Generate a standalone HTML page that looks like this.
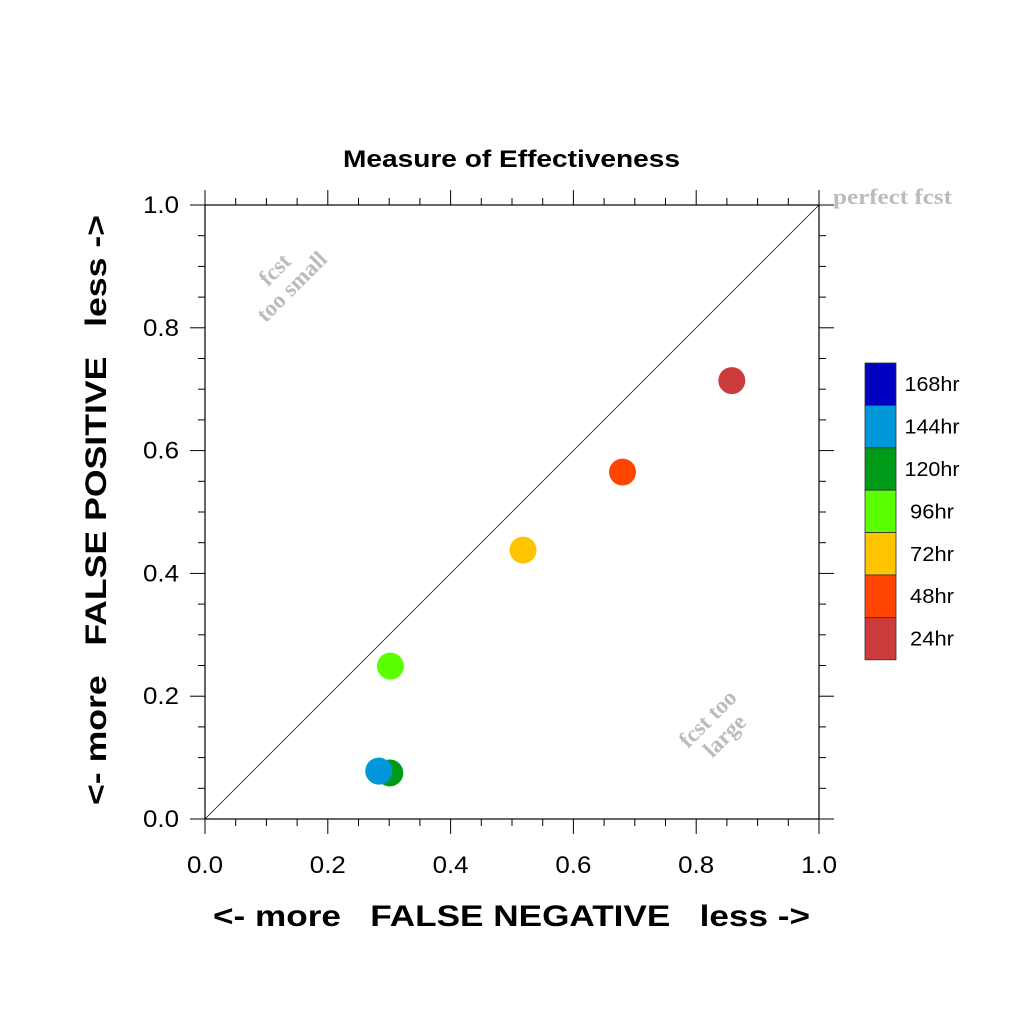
<!DOCTYPE html>
<html><head><meta charset="utf-8"><style>
body{margin:0;background:#fff}
svg{display:block}
</style></head><body>
<svg id="chart" width="1024" height="1024" viewBox="0 0 1024 1024" xmlns="http://www.w3.org/2000/svg">
<text x="343" y="167" textLength="337" lengthAdjust="spacingAndGlyphs" font-family="Liberation Sans, sans-serif" font-weight="bold" font-size="24">Measure of Effectiveness</text>
<g id="axes"></g>
<g id="points"></g>
<g id="legend"></g>
<text x="213" y="926" textLength="597" lengthAdjust="spacingAndGlyphs" font-family="Liberation Sans, sans-serif" font-weight="bold" font-size="30" xml:space="preserve">&lt;- more   FALSE NEGATIVE   less -&gt;</text>
<text transform="translate(106,805) rotate(-90)" textLength="590" lengthAdjust="spacingAndGlyphs" font-family="Liberation Sans, sans-serif" font-weight="bold" font-size="30" xml:space="preserve">&lt;- more   FALSE POSITIVE   less -&gt;</text>
<text x="833" y="204" textLength="119" lengthAdjust="spacingAndGlyphs" font-family="Liberation Serif, serif" font-weight="bold" font-size="22" fill="#bbb">perfect fcst</text>
<text transform="translate(280,275) rotate(-45)" text-anchor="middle" font-family="Liberation Serif, serif" font-weight="bold" font-size="23" fill="#bbb"><tspan x="0" y="0">fcst</tspan><tspan x="0" y="24">too small</tspan></text>
<text transform="translate(713,724) rotate(-45)" text-anchor="middle" font-family="Liberation Serif, serif" font-weight="bold" font-size="23" fill="#bbb"><tspan x="0" y="0">fcst too</tspan><tspan x="0" y="24">large</tspan></text>
</svg>
<script>
const categories = ["24hr","48hr","72hr","96hr","120hr","144hr","168hr"];
const colors = ["#cc3b3b","#ff4500","#ffc400","#5aff00","#009a19","#0098db","#0000c0"];
const falseNeg = [0.858,0.680,0.518,0.302,0.301,0.283];
const falsePos = [0.714,0.565,0.438,0.249,0.075,0.078];
const tickLabels = ["0.0","0.2","0.4","0.6","0.8","1.0"];

const NS="http://www.w3.org/2000/svg";
const X0=205,X1=819,Y0=819,Y1=205;
function xs(v){return X0+v*(X1-X0);}
function ys(v){return Y0-v*(Y0-Y1);}
function mk(tag,attrs,parent){const e=document.createElementNS(NS,tag);for(const k in attrs)e.setAttribute(k,attrs[k]);parent.appendChild(e);return e;}

const axes=document.getElementById('axes');
const frame=mk('rect',{x:X0,y:Y1,width:X1-X0,height:Y0-Y1,fill:'none',stroke:'#000','stroke-width':1.2},axes);


const diag=mk('line',{x1:xs(0),y1:ys(0),x2:xs(1),y2:ys(1),stroke:'#000','stroke-width':0.7},axes);


for(let i=0;i<=20;i++){
  const v=i/20, major=(i%4===0), L=major?15:7;
  const px=xs(v), py=ys(v);
  mk('line',{x1:px,y1:Y0,x2:px,y2:Y0+L,stroke:'#000'},axes);
  mk('line',{x1:px,y1:Y1,x2:px,y2:Y1-L,stroke:'#000'},axes);
  mk('line',{x1:X0,y1:py,x2:X0-L,y2:py,stroke:'#000'},axes);
  mk('line',{x1:X1,y1:py,x2:X1+L,y2:py,stroke:'#000'},axes);
}
tickLabels.forEach((t,i)=>{
  const v=i/5;
  const tx=mk('text',{x:xs(v)-18,y:Y0+54,textLength:36,lengthAdjust:'spacingAndGlyphs','font-family':'Liberation Sans, sans-serif','font-size':24},axes);
  tx.textContent=t;
  
  
  const ty=mk('text',{x:X0-26-36,y:ys(v)+8,textLength:36,lengthAdjust:'spacingAndGlyphs','font-family':'Liberation Sans, sans-serif','font-size':24},axes);
  ty.textContent=t;
  
  
});

const pts=document.getElementById('points');
falseNeg.forEach((fn,i)=>{
  const c=mk('circle',{cx:xs(fn),cy:ys(falsePos[i]),r:13.5,fill:colors[i]},pts);
  
  
});

const lg=document.getElementById('legend');
const LX=865,LY=363,BW=31,BH=42.4;
for(let k=0;k<categories.length;k++){
  const idx=categories.length-1-k;
  const y=LY+k*BH;
  const r=mk('rect',{x:LX,y:y,width:BW,height:BH,fill:colors[idx],stroke:'#333','stroke-width':0.8},lg);
  
  
  const w=categories[idx].length*11;
  const t=mk('text',{x:932-w/2,y:y+BH/2+7,textLength:w,lengthAdjust:'spacingAndGlyphs','font-family':'Liberation Sans, sans-serif','font-size':20},lg);
  t.textContent=categories[idx];
  
  
}
</script>
</body></html>
